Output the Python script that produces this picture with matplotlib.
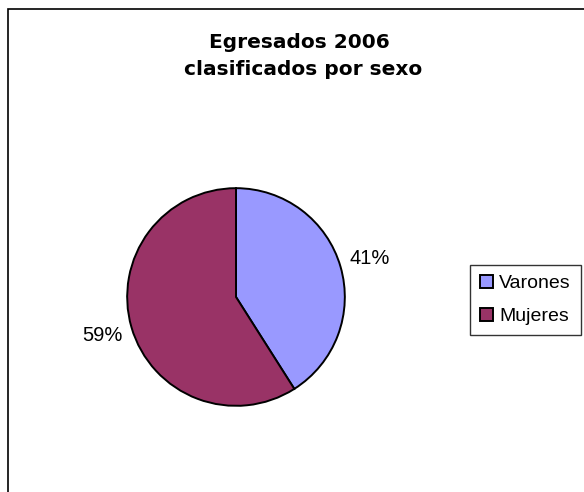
import matplotlib.pyplot as plt
from matplotlib.patches import Rectangle

categorias = ["Varones", "Mujeres"]
porcentajes = [41, 59]
colores = ["#9999FF", "#993366"]
titulo = ["Egresados 2006", "clasificados por sexo"]

plt.rcParams['font.family'] = ['Liberation Sans', 'DejaVu Sans']

fig = plt.figure(figsize=(5.84, 4.92), dpi=100)

# marco del grafico (recortado a la derecha y abajo)
fig.patches.append(Rectangle((8 / 584, -0.1), 1.0, (492 - 9) / 492 + 0.1,
                             transform=fig.transFigure, fill=False,
                             edgecolor="black", linewidth=1.2))

# titulo en dos lineas, letra ancha como la del original
fig.text(299 / 584, 1 - 48 / 492, titulo[0], ha="center", va="baseline",
         fontsize=14.5, fontweight="bold", family="DejaVu Sans")
fig.text(303 / 584, 1 - 75 / 492, titulo[1], ha="center", va="baseline",
         fontsize=14.5, fontweight="bold", family="DejaVu Sans")

ax = fig.add_axes([125 / 584, 84 / 492, 222 / 584, 222 / 492])
wedges, textos, autotextos = ax.pie(
    porcentajes, colors=colores, startangle=90, counterclock=False,
    autopct=lambda p: "%d%%" % round(p), pctdistance=1.28, radius=1,
    wedgeprops={"edgecolor": "black", "linewidth": 1.4})
for t in autotextos:
    t.set_fontsize(14.5)
ax.set_xlim(-1.02, 1.02)
ax.set_ylim(-1.02, 1.02)
ax.set_aspect("equal")
ax.axis("off")

leg = fig.legend(wedges, categorias, loc="center left",
                 bbox_to_anchor=(470 / 584, 1 - 300 / 492),
                 fontsize=14, frameon=True, fancybox=False,
                 edgecolor="black", handlelength=0.7, handleheight=0.7,
                 handletextpad=0.3, labelspacing=0.8, borderpad=0.5,
                 borderaxespad=0)
leg.get_frame().set_linewidth(1.0)

fig.savefig("out.png", dpi=100)
